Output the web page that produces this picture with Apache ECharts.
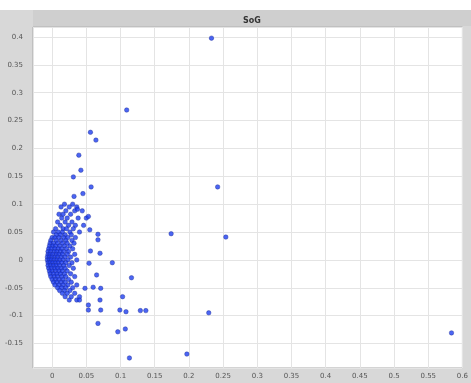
<!DOCTYPE html>
<html>
<head>
<meta charset="utf-8">
<script src="https://cdn.jsdelivr.net/npm/echarts@6/dist/echarts.min.js"></script>
<style>
  html, body { margin: 0; padding: 0; background: #ffffff; }
  #chart { width: 471px; height: 383px; }
</style>
</head>
<body>
<div id="chart"></div>
<script>
// Chart title
var chartTitle = 'SoG';

// Axis ranges and tick step
var xRange = [-0.028, 0.6];
var yRange = [-0.194, 0.418];
var tickStep = 0.05;

// Dense core of the cloud: rows of [y, x values...]
var coreRows = [
  [0.100, 0.018, 0.030],
  [0.095, 0.013, 0.025, 0.036],
  [0.088, 0.020, 0.033, 0.044],
  [0.082, 0.010, 0.016, 0.027],
  [0.075, 0.014, 0.022, 0.038, 0.050],
  [0.068, 0.008, 0.019, 0.029],
  [0.062, 0.012, 0.024, 0.034, 0.046],
  [0.056, 0.005, 0.016, 0.021, 0.031],
  [0.050, 0.002, 0.009, 0.015, 0.026, 0.040],
  [0.045, 0.006, 0.012, 0.019, 0.028],
  [0.040, 0.000, 0.004, 0.010, 0.017, 0.023, 0.034],
  [0.035, -0.002, 0.006, 0.013, 0.020, 0.029],
  [0.030, -0.003, 0.002, 0.008, 0.015, 0.022, 0.032],
  [0.025, -0.004, 0.001, 0.005, 0.011, 0.018, 0.026],
  [0.020, -0.005, -0.001, 0.004, 0.009, 0.014, 0.021, 0.030],
  [0.015, -0.006, -0.002, 0.003, 0.007, 0.012, 0.017, 0.024],
  [0.010, -0.006, -0.003, 0.001, 0.006, 0.010, 0.015, 0.022, 0.033],
  [0.005, -0.007, -0.004, 0.000, 0.004, 0.008, 0.013, 0.019, 0.027],
  [0.000, -0.007, -0.004, -0.001, 0.003, 0.007, 0.011, 0.016, 0.023, 0.036],
  [-0.005, -0.006, -0.003, 0.001, 0.005, 0.009, 0.014, 0.020, 0.029],
  [-0.010, -0.006, -0.002, 0.002, 0.006, 0.011, 0.017, 0.025],
  [-0.015, -0.005, -0.001, 0.004, 0.008, 0.013, 0.019, 0.031],
  [-0.020, -0.004, 0.000, 0.005, 0.010, 0.015, 0.022],
  [-0.025, -0.003, 0.002, 0.007, 0.012, 0.018, 0.027],
  [-0.030, -0.002, 0.003, 0.008, 0.014, 0.020, 0.033],
  [-0.035, 0.000, 0.005, 0.010, 0.016, 0.024],
  [-0.040, 0.002, 0.007, 0.013, 0.019, 0.028],
  [-0.045, 0.004, 0.010, 0.016, 0.023, 0.036],
  [-0.050, 0.008, 0.014, 0.020, 0.030],
  [-0.055, 0.011, 0.018, 0.026],
  [-0.060, 0.015, 0.022, 0.033],
  [-0.066, 0.019, 0.028, 0.040],
  [-0.072, 0.025, 0.036]
];

// Scattered points outside the core: [x, y]
var outerPoints = [
  [0.109, 0.269], [0.056, 0.229], [0.064, 0.215], [0.039, 0.188],
  [0.042, 0.161], [0.031, 0.149], [0.057, 0.131], [0.045, 0.119],
  [0.032, 0.114], [0.037, 0.091], [0.053, 0.078], [0.055, 0.054],
  [0.067, 0.046], [0.067, 0.036], [0.056, 0.016], [0.070, 0.012],
  [0.088, -0.005], [0.054, -0.006], [0.065, -0.027], [0.116, -0.032],
  [0.048, -0.051], [0.060, -0.049], [0.071, -0.051], [0.040, -0.072],
  [0.070, -0.072], [0.103, -0.066], [0.053, -0.081], [0.053, -0.090],
  [0.071, -0.090], [0.099, -0.090], [0.108, -0.093], [0.129, -0.091],
  [0.137, -0.091], [0.067, -0.114], [0.096, -0.129], [0.107, -0.124],
  [0.113, -0.176], [0.197, -0.169], [0.229, -0.095], [0.233, 0.398],
  [0.242, 0.131], [0.174, 0.047], [0.254, 0.041], [0.584, -0.131]
];

var points = [];
coreRows.forEach(function (row) {
  for (var i = 1; i < row.length; i++) points.push([row[i], row[0]]);
});
outerPoints.forEach(function (p) { points.push(p); });

var chart = echarts.init(document.getElementById('chart'), null, { renderer: 'canvas' });

var labelStyle = { fontSize: 7, color: '#555555', fontFamily: 'DejaVu Sans' };

chart.setOption({
  animation: false,
  backgroundColor: '#d8d8d8',
  graphic: [
    { type: 'rect', left: 0, top: 0, shape: { width: 471, height: 10 }, style: { fill: '#ffffff' }, z: -1 },
    { type: 'rect', left: 33, top: 10, shape: { width: 438, height: 16 }, style: { fill: '#cfcfcf' }, z: -1 }
  ],
  title: {
    text: chartTitle,
    left: 247,
    top: 12,
    textAlign: 'center',
    textStyle: { fontSize: 8, fontWeight: 'bold', color: '#333333', fontFamily: 'DejaVu Sans' }
  },
  grid: {
    left: 33, right: 5, top: 27, bottom: 15,
    show: true, backgroundColor: '#ffffff', borderColor: '#a8a8a8', borderWidth: 1
  },
  xAxis: {
    type: 'value',
    min: xRange[0], max: xRange[1],
    minInterval: tickStep, maxInterval: tickStep,
    axisLine: { show: false },
    axisTick: { show: false },
    axisLabel: Object.assign({ margin: 5, showMinLabel: false, showMaxLabel: true }, labelStyle),
    splitLine: { show: true, lineStyle: { color: '#e4e4e4', width: 1 } }
  },
  yAxis: {
    type: 'value',
    min: yRange[0], max: yRange[1],
    minInterval: tickStep, maxInterval: tickStep,
    axisLine: { show: false },
    axisTick: { show: false },
    axisLabel: Object.assign({ margin: 10, showMinLabel: false, showMaxLabel: false }, labelStyle),
    splitLine: { show: true, lineStyle: { color: '#e4e4e4', width: 1 } }
  },
  series: [{
    type: 'scatter',
    data: points,
    symbol: 'circle',
    symbolSize: 4.5,
    itemStyle: { color: '#1e3ef0', borderColor: '#1a2890', borderWidth: 0.5 }
  }]
});
</script>
</body>
</html>
